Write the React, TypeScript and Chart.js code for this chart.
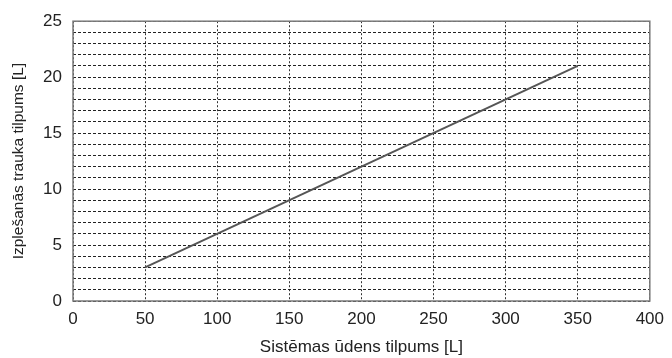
import React, { useEffect, useRef } from "react";
import { Chart, registerables } from "chart.js";

Chart.register(...registerables);

const xValues = [50, 350];
const yValues = [3, 21];
const xTitle = "Sistēmas ūdens tilpums [L]";
const yTitle = "Izplešanās trauka tilpums [L]";
const xMin = 0, xMax = 400, xStep = 50;
const yMin = 0, yMax = 25, yStep = 1, yLabelStep = 5;

const framePlugin = {
  id: "frame",
  afterDraw(chart: any) {
    const { ctx, chartArea } = chart;
    ctx.save();
    ctx.strokeStyle = "#7a7a7a";
    ctx.lineWidth = 1.5;
    ctx.strokeRect(chartArea.left, chartArea.top, chartArea.right - chartArea.left, chartArea.bottom - chartArea.top);
    ctx.restore();
  },
};

export default function App() {
  const ref = useRef<HTMLCanvasElement | null>(null);
  useEffect(() => {
    document.body.style.margin = "0";
    const family = "'Liberation Sans', Arial, sans-serif";
    const tickFont = { family, size: 17 };
    const chart = new Chart(ref.current!, {
      type: "line",
      data: {
        datasets: [
          {
            data: xValues.map((x, i) => ({ x, y: yValues[i] })),
            borderColor: "#555555",
            borderWidth: 2,
            pointRadius: 0,
            fill: false,
            tension: 0,
          },
        ],
      },
      options: {
        animation: false,
        responsive: false,
        maintainAspectRatio: false,
        layout: { padding: { left: 0, top: 20, right: 21, bottom: 0 } },
        plugins: { legend: { display: false }, tooltip: { enabled: false } },
        scales: {
          x: {
            type: "linear",
            min: xMin,
            max: xMax,
            ticks: { stepSize: xStep, color: "#222", font: tickFont, padding: 8, maxRotation: 0 },
            grid: { color: "#333", lineWidth: 1, drawTicks: false },
            border: { display: false, dash: [2, 2] },
            title: { display: true, text: xTitle, color: "#222", font: { family, size: 17 }, padding: { top: 9, bottom: 0 } },
            afterFit(scale: any) { scale.height = 57; },
          },
          y: {
            type: "linear",
            min: yMin,
            max: yMax,
            ticks: {
              stepSize: yStep,
              autoSkip: false,
              color: "#222",
              font: tickFont,
              padding: 11,
              callback: (v: any) => (Number(v) % yLabelStep === 0 ? String(v) : ""),
            },
            grid: { color: "#222", lineWidth: 1, drawTicks: false },
            border: { display: false, dash: [3, 2] },
            title: { display: true, text: yTitle, color: "#222", font: { family, size: 15.5 }, padding: { top: 9, bottom: 0 } },
            afterFit(scale: any) { scale.width = 73; },
          },
        },
      },
      plugins: [framePlugin],
    } as any);
    return () => chart.destroy();
  }, []);
  return (
    <div style={{ width: 672, height: 358 }}>
      <canvas ref={ref} width={672} height={358} style={{ display: "block" }} />
    </div>
  );
}
